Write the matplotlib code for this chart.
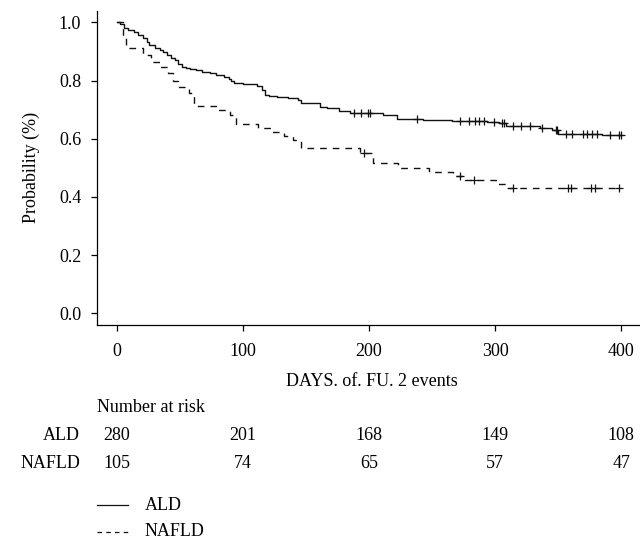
import numpy as np
import matplotlib
matplotlib.use("Agg")
import matplotlib.pyplot as plt
import matplotlib.transforms as mtransforms
from matplotlib.lines import Line2D

plt.rcParams["font.family"] = ["Liberation Serif", "DejaVu Serif"]
plt.rcParams["font.size"] = 13

# Kaplan-Meier steps (day of drop, survival after drop)
ald_times = [0, 3, 6, 9, 14, 17, 21, 24, 26, 30, 34, 37, 40, 43, 46, 49, 52, 55,
             58, 63, 68, 74, 79, 85, 89, 91, 93, 100, 111, 115, 118, 121, 127,
             136, 144, 146, 161, 167, 176, 185, 211, 222, 243, 266, 294, 303,
             309, 336, 345, 350, 385]
ald_surv = [1.0, 0.993, 0.981, 0.973, 0.968, 0.956, 0.945, 0.931, 0.922, 0.913,
            0.905, 0.897, 0.889, 0.879, 0.869, 0.858, 0.848, 0.843, 0.840, 0.836,
            0.831, 0.825, 0.820, 0.813, 0.806, 0.800, 0.792, 0.788, 0.781, 0.767,
            0.752, 0.746, 0.742, 0.739, 0.733, 0.722, 0.710, 0.704, 0.696, 0.690,
            0.681, 0.668, 0.664, 0.661, 0.656, 0.653, 0.644, 0.636, 0.630, 0.616,
            0.612]
ald_censor = [188, 194, 199, 201, 238, 272, 279.5, 284, 287.5, 291, 299.5, 305.5,
              307, 314, 321, 328, 337, 348, 349, 356, 361, 370, 373, 377, 381,
              391, 398, 400]

nafld_times = [0, 5, 7.5, 21, 27, 34.5, 41, 45, 49, 57, 61.5, 80, 90, 95, 112,
               122, 133, 140, 146, 193, 203, 223, 248, 267, 276, 301.5, 308]
nafld_surv = [1.0, 0.952, 0.911, 0.888, 0.865, 0.847, 0.825, 0.800, 0.779, 0.757,
              0.713, 0.699, 0.681, 0.652, 0.636, 0.624, 0.609, 0.595, 0.567, 0.552,
              0.518, 0.498, 0.487, 0.472, 0.458, 0.443, 0.430]
nafld_censor = [196, 272, 283.5, 314, 358, 360, 376, 379.5, 398]

risk_days = [0, 100, 200, 300, 400]
ald_risk = [280, 201, 168, 149, 108]
nafld_risk = [105, 74, 65, 57, 47]

W, H = 640, 544


def fx(x):
    return x / W


def fy(y):
    return 1 - y / H


def level_at(times, surv, t):
    idx = np.searchsorted(times, t, side="right") - 1
    return np.asarray(surv)[idx]


fig = plt.figure(figsize=(6.4, 5.44), dpi=100)
ax = fig.add_axes([fx(96.5), fy(325), (641.3 - 96.5) / W, (325 - 10.7) / H])

dash = (0, (4.8, 4.3))
ax.step(ald_times + [400], ald_surv + [ald_surv[-1]], where="post",
        color="#111111", lw=1.0)
ax.step(nafld_times + [398], nafld_surv + [nafld_surv[-1]], where="post",
        color="#111111", lw=1.0, linestyle=dash)
ax.plot(ald_censor, level_at(ald_times, ald_surv, ald_censor), "+",
        color="#111111", ms=6, mew=0.9)
ax.plot(nafld_censor, level_at(nafld_times, nafld_surv, nafld_censor), "+",
        color="#111111", ms=6, mew=0.9)

ax.set_xlim(-16, 416)
ax.set_ylim(-0.04, 1.04)
ax.set_xticks(risk_days)
ax.set_yticks([0, 0.2, 0.4, 0.6, 0.8, 1.0])
ax.set_yticklabels(["0.0", "0.2", "0.4", "0.6", "0.8", "1.0"])
ax.spines["top"].set_visible(False)
ax.spines["right"].set_visible(False)
for s in ("left", "bottom"):
    ax.spines[s].set_linewidth(0.9)
ax.tick_params(direction="out", length=4, width=0.9, labelsize=13)
ax.tick_params(axis="y", pad=7)
ax.tick_params(axis="x", pad=9)

fig.text(fx(31.7), fy(167), "Probability (%)", rotation=90,
         ha="center", va="center", fontsize=13)
fig.text(fx(372), fy(382), "DAYS. of. FU. 2 events", ha="center",
         va="center", fontsize=13)

# number at risk table
tr = mtransforms.blended_transform_factory(ax.transData, fig.transFigure)
fig.text(fx(97), fy(407), "Number at risk", ha="left", va="center", fontsize=13)
fig.text(fx(80), fy(435), "ALD", ha="right", va="center", fontsize=13)
fig.text(fx(80), fy(463), "NAFLD", ha="right", va="center", fontsize=13)
for d, a, n in zip(risk_days, ald_risk, nafld_risk):
    fig.text(d, fy(435), str(a), transform=tr, ha="center", va="center", fontsize=13)
    fig.text(d, fy(463), str(n), transform=tr, ha="center", va="center", fontsize=13)

# legend
fig.add_artist(Line2D([fx(97), fx(128)], [fy(505), fy(505)], color="#111111", lw=0.9))
fig.add_artist(Line2D([fx(97), fx(128)], [fy(532), fy(532)], color="#111111", lw=0.9,
                      linestyle=(0, (3.6, 3.4))))
fig.text(fx(145), fy(505), "ALD", ha="left", va="center", fontsize=13)
fig.text(fx(145), fy(532), "NAFLD", ha="left", va="center", fontsize=13)

fig.savefig("out.png", dpi=100)
